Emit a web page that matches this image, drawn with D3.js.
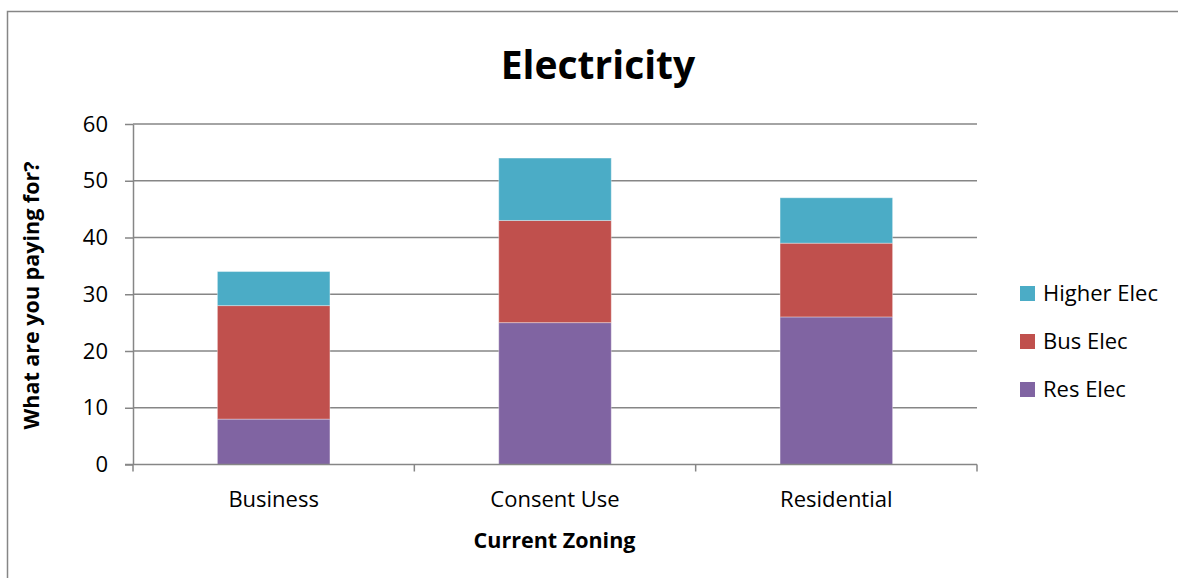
<!DOCTYPE html>
<html lang="en">
<head>
  <meta charset="UTF-8">
  <title>Electricity</title>
  <style>
    body { margin: 0; background: #fff; }
    text { font-family: "Open Sans", sans-serif; fill: #000; }
    .titulo { font-size: 39px; font-weight: bold; text-anchor: middle; }
    .eixo-titulo { font-size: 21.5px; font-weight: bold; text-anchor: middle; }
    .tick text { font-size: 22px; }
    .legenda text { font-size: 22px; }
  </style>
</head>
<body>
  <svg id="grafico"></svg>

  <script src="https://d3js.org/d3.v7.min.js"></script>
  <script>
    const categorias = ['Business', 'Consent Use', 'Residential'];
    const series = ['Res Elec', 'Bus Elec', 'Higher Elec'];
    const resElec = [8, 25, 26];
    const busElec = [20, 18, 13];
    const higherElec = [6, 11, 8];
    const yTicks = [0, 10, 20, 30, 40, 50, 60];
    const cores = ['#8064A2', '#C0504D', '#4BACC6'];

    function executa() {
      const largura = 1178, altura = 578;
      const svg = d3.select('#grafico').attr('width', largura).attr('height', altura);

      // moldura do gráfico
      svg.append('rect')
        .attr('x', 7.5).attr('y', 11.5)
        .attr('width', largura + 20).attr('height', altura + 20)
        .attr('fill', 'none').attr('stroke', '#868686').attr('stroke-width', 1.5);

      const area = { left: 133, right: 977, top: 124, bottom: 464.5 };

      const x = d3.scaleBand().domain(categorias).range([area.left, area.right])
        .paddingInner(0.6).paddingOuter(0.3);
      const xBand = d3.scaleBand().domain(categorias).range([area.left, area.right]);
      const y = d3.scaleLinear().domain([0, 60]).range([area.bottom, area.top]);

      // linhas de grade
      svg.append('g').selectAll('line')
        .data(yTicks.filter(d => d > 0))
        .enter().append('line')
        .attr('x1', area.left).attr('x2', area.right)
        .attr('y1', d => y(d)).attr('y2', d => y(d))
        .attr('stroke', '#868686').attr('stroke-width', 1.5);

      // dados empilhados
      const tabela = categorias.map((c, i) => ({
        cat: c, 'Res Elec': resElec[i], 'Bus Elec': busElec[i], 'Higher Elec': higherElec[i]
      }));
      const pilha = d3.stack().keys(series)(tabela);

      svg.append('g').selectAll('g')
        .data(pilha)
        .enter().append('g')
        .attr('fill', (d, i) => cores[i])
        .selectAll('rect')
        .data(d => d)
        .enter().append('rect')
        .attr('x', d => x(d.data.cat))
        .attr('width', x.bandwidth())
        .attr('y', d => y(d[1]))
        .attr('height', d => y(d[0]) - y(d[1]))
        .attr('stroke', 'rgba(255,255,255,0.35)').attr('stroke-width', 1);

      // eixo y
      const eixoY = d3.axisLeft(y).tickValues(yTicks).tickSize(8).tickPadding(17).tickSizeOuter(0);
      const gy = svg.append('g').attr('transform', `translate(${area.left},0)`).call(eixoY);
      gy.selectAll('line, path').attr('stroke', '#868686').attr('stroke-width', 1.5);
      gy.selectAll('text').attr('font-family', null);

      // eixo x
      const gx = svg.append('g').attr('transform', `translate(0,${area.bottom})`);
      gx.append('line')
        .attr('x1', area.left - 8).attr('x2', area.right)
        .attr('stroke', '#868686').attr('stroke-width', 1.5);
      const limites = categorias.map(c => xBand(c)).concat([area.right]);
      gx.selectAll('.marca')
        .data(limites)
        .enter().append('line')
        .attr('x1', d => d).attr('x2', d => d)
        .attr('y1', 0).attr('y2', 7)
        .attr('stroke', '#868686').attr('stroke-width', 1.5);
      gx.selectAll('.rotulo')
        .data(categorias)
        .enter().append('text')
        .attr('x', d => xBand(d) + xBand.bandwidth() / 2)
        .attr('y', 42)
        .attr('text-anchor', 'middle')
        .style('font-size', '22px')
        .text(d => d);

      // títulos
      svg.append('text').classed('titulo', true).attr('x', 598).attr('y', 79).text('Electricity');
      svg.append('text').classed('eixo-titulo', true).attr('x', 554.5).attr('y', 548).text('Current Zoning');
      svg.append('text').classed('eixo-titulo', true)
        .attr('transform', 'translate(39,295.5) rotate(-90)')
        .text('What are you paying for?');

      // legenda
      const legenda = svg.append('g').classed('legenda', true);
      const itens = series.slice().reverse();
      const coresLeg = cores.slice().reverse();
      const ly = d3.scalePoint().domain(itens).range([293, 389]);
      legenda.selectAll('rect')
        .data(itens)
        .enter().append('rect')
        .attr('x', 1020).attr('y', d => ly(d) - 7)
        .attr('width', 15).attr('height', 15)
        .attr('fill', (d, i) => coresLeg[i]);
      legenda.selectAll('text')
        .data(itens)
        .enter().append('text')
        .attr('x', 1043).attr('y', d => ly(d) + 8)
        .text(d => d);
    }

    executa();
  </script>
</body>
</html>
